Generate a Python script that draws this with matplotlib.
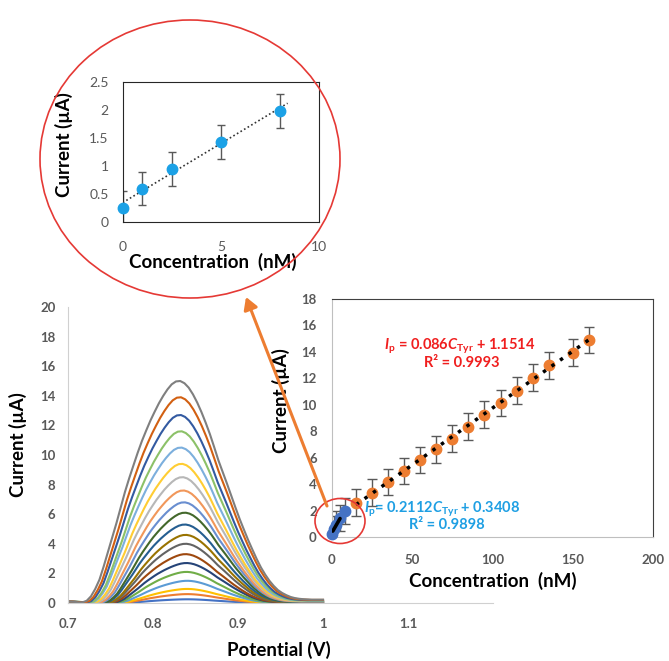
import numpy as np
import matplotlib
matplotlib.use("Agg")
import matplotlib.pyplot as plt
from matplotlib.patches import Ellipse, FancyArrowPatch

plt.rcParams['font.family'] = ['Lato', 'DejaVu Sans']
plt.rcParams['mathtext.fontset'] = 'custom'
plt.rcParams['mathtext.rm'] = 'Lato'
plt.rcParams['mathtext.it'] = 'Lato:italic'
plt.rcParams['mathtext.bf'] = 'Lato:bold'
plt.rcParams['mathtext.bfit'] = 'Lato:italic:bold'

# ---------------- data ----------------
# normalised DPV profile
template_potential = [0.700, 0.705, 0.710, 0.715, 0.720, 0.725, 0.730, 0.735, 0.740, 0.745,
                      0.750, 0.755, 0.760, 0.765, 0.770, 0.775, 0.780, 0.785, 0.790, 0.795,
                      0.800, 0.805, 0.810, 0.815, 0.820, 0.825, 0.830, 0.835, 0.840, 0.845,
                      0.850, 0.855, 0.860, 0.865, 0.870, 0.875, 0.880, 0.885, 0.890, 0.895,
                      0.900, 0.905, 0.910, 0.915, 0.920, 0.925, 0.930, 0.935, 0.940, 0.945,
                      0.950, 0.955, 0.960, 0.965, 0.970, 0.975, 0.980, 0.985, 0.990, 0.995, 1.000]
template_shape = [0.008, 0.007, 0.005, 0.003, 0.003, 0.010, 0.030, 0.063, 0.105, 0.165,
                  0.230, 0.295, 0.360, 0.430, 0.500, 0.562, 0.620, 0.677, 0.730, 0.777,
                  0.822, 0.862, 0.900, 0.933, 0.962, 0.985, 0.998, 1.000, 0.990, 0.970,
                  0.940, 0.903, 0.860, 0.812, 0.760, 0.702, 0.642, 0.590, 0.538, 0.484,
                  0.430, 0.378, 0.330, 0.283, 0.240, 0.198, 0.160, 0.128, 0.100, 0.077,
                  0.058, 0.045, 0.035, 0.027, 0.022, 0.019, 0.017, 0.016, 0.015, 0.015, 0.015]
template_peak = 0.833

peak_heights = [0.25, 0.6, 0.95, 1.5, 2.1, 2.7, 3.3, 4.0, 4.6, 5.3,
                6.1, 6.8, 7.6, 8.5, 9.4, 10.5, 11.6, 12.7, 13.9, 15.0]
peak_potentials = [0.840, 0.840, 0.840, 0.840, 0.839, 0.839, 0.838, 0.838, 0.838, 0.837,
                   0.837, 0.836, 0.835, 0.834, 0.833, 0.832, 0.832, 0.831, 0.831, 0.830]
peak_widths = [0.70, 0.72, 0.73, 0.75, 0.76, 0.78, 0.79, 0.81, 0.82, 0.84,
               0.85, 0.87, 0.88, 0.90, 0.91, 0.93, 0.94, 0.96, 0.98, 1.00]
curve_colors = ['#4472C4', '#ED7D31', '#FFC000', '#5B9BD5', '#70AD47', '#264478', '#9E480E',
                '#636363', '#997300', '#255E91', '#43682B', '#698ED0', '#F1975A', '#B7B7B7',
                '#FFCD33', '#7CAFDD', '#8CC168', '#335AA1', '#D26012', '#7F7F7F']

conc_high = [15, 25, 35, 45, 55, 65, 75, 85, 95, 105, 115, 125, 135, 150, 160]
cur_high = [2.60, 3.35, 4.16, 4.99, 5.83, 6.63, 7.44, 8.35, 9.25, 10.14, 11.07, 12.05, 12.98, 13.94, 14.90]
err_high = [1.0, 1.0, 1.0, 1.0, 1.0, 1.0, 1.0, 1.0, 1.0, 1.0, 1.0, 1.0, 1.0, 1.0, 1.0]

conc_low = [0, 1, 2.5, 5, 8]
cur_low = [0.24, 0.59, 0.94, 1.42, 1.98]
err_low_main = [1.0, 1.0, 1.0, 1.0, 1.0]
err_low_inset = [0.3, 0.3, 0.3, 0.3, 0.3]

fit_high = (0.086, 1.1514)
fit_low = (0.2112, 0.3408)
fit_high_range = [15, 162]
fit_low_range_main = [0.5, 5]
fit_low_range_inset = [0, 8.4]

# ---------------- figure ----------------
W, H = 669, 661
fig = plt.figure(figsize=(W / 100, H / 100), dpi=100)
fig.patch.set_facecolor('white')

TICK = '#595959'

# ---- left: voltammograms ----
ax1 = fig.add_axes([68 / W, 1 - 603 / H, 425 / W, 296 / H])
tp = np.array(template_potential)
ts = np.array(template_shape)
for h, pk, w, c in zip(peak_heights, peak_potentials, peak_widths, curve_colors):
    xs = pk + (tp - template_peak) * w
    keep = xs <= 1.0
    xs = np.concatenate([[0.70], xs[keep], [1.00]])
    ys = np.concatenate([[ts[0]], ts[keep], [ts[keep][-1]]]) * h
    ax1.plot(xs, ys, color=c, lw=1.5)
ax1.set_xlim(0.7, 1.2)
ax1.set_ylim(0, 20)
ax1.set_xticks([0.7, 0.8, 0.9, 1.0, 1.1])
ax1.set_xticklabels(['0.7', '0.8', '0.9', '1', '1.1'])
ax1.set_yticks(range(0, 21, 2))
for s in ['top', 'right']:
    ax1.spines[s].set_visible(False)
for s in ['left', 'bottom']:
    ax1.spines[s].set_color('#D0D0D0')
ax1.tick_params(length=0, labelsize=9.5, labelcolor=TICK)
ax1.tick_params(axis='x', pad=11)
ax1.tick_params(axis='y', pad=9)
for t in ax1.get_xticklabels() + ax1.get_yticklabels():
    t.set_fontweight('bold')
ax1.set_xlabel('Potential (V)', fontsize=13.5, fontweight='bold')
ax1.set_ylabel('Current (µA)', fontsize=13.5, fontweight='bold')
ax1.xaxis.set_label_coords((279 - 68) / 425, (603 - 641) / 296)
ax1.yaxis.set_label_coords((27 - 68) / 425, (603 - 445) / 296)

# ---- right: calibration plot ----
ax2 = fig.add_axes([332 / W, 1 - 537 / H, 321 / W, 238 / H])
ax2.set_facecolor('white')
ax2.errorbar(conc_high, cur_high, yerr=err_high, fmt='none', ecolor='#595959',
             elinewidth=1, capsize=3.5, capthick=1, zorder=2)
ax2.errorbar(conc_low, cur_low, yerr=err_low_main, fmt='none', ecolor='#595959',
             elinewidth=1, capsize=3.5, capthick=1, zorder=2)
ax2.plot(conc_high, cur_high, 'o', color='#ED7D31', ms=7.5, zorder=3, clip_on=False)
ax2.plot(conc_low, cur_low, 'o', color='#4472C4', ms=7.5, zorder=3, clip_on=False)
xh = np.array(fit_high_range)
ax2.plot(xh, fit_high[0] * xh + fit_high[1], color='black', lw=2.5,
         linestyle=(0, (1, 2)), zorder=4)
xl = np.array(fit_low_range_main)
ax2.plot(xl, fit_low[0] * xl + fit_low[1], color='black', lw=2.6, zorder=4,
         solid_capstyle='round')
ax2.set_xlim(0, 200)
ax2.set_ylim(0, 18)
ax2.set_xticks(range(0, 201, 50))
ax2.set_yticks(range(0, 19, 2))
for s in ['left', 'bottom']:
    ax2.spines[s].set_color('#BFBFBF')
for s in ['top', 'right']:
    ax2.spines[s].set_color('#404040')
ax2.tick_params(length=0, labelsize=9.5, labelcolor=TICK)
ax2.tick_params(axis='x', pad=12)
ax2.tick_params(axis='y', pad=11)
for t in ax2.get_xticklabels() + ax2.get_yticklabels():
    t.set_fontweight('bold')
ax2.set_xlabel('Concentration  (nM)', fontsize=13.5, fontweight='bold')
ax2.set_ylabel('Current (µA)', fontsize=13.5, fontweight='bold')
ax2.xaxis.set_label_coords(0.5, (537 - 572) / 238)
ax2.yaxis.set_label_coords((290 - 332) / 321, (537 - 401) / 238)

red = '#F01E1E'
blue = '#1E9FE3'
ax2.text(0.399, 0.80, r'$\mathbfit{I}_{\mathbf{p}}$ = 0.086$\mathbfit{C}_{\mathbf{Tyr}}$ + 1.1514',
         transform=ax2.transAxes, ha='center', va='center', color=red,
         fontsize=10.5, fontweight='bold')
ax2.text(0.405, 0.73, 'R² = 0.9993', transform=ax2.transAxes, ha='center', va='center',
         color=red, fontsize=10.5, fontweight='bold')
ax2.text(0.343, 0.118, r'$\mathbfit{I}_{\mathbf{p}}$= 0.2112$\mathbfit{C}_{\mathbf{Tyr}}$ + 0.3408',
         transform=ax2.transAxes, ha='center', va='center', color=blue,
         fontsize=10.5, fontweight='bold')
ax2.text(0.358, 0.05, 'R² = 0.9898', transform=ax2.transAxes, ha='center', va='center',
         color=blue, fontsize=10.5, fontweight='bold')

# ---- inset: low concentration range ----
ax3 = fig.add_axes([122.7 / W, 1 - 221.7 / H, 196.3 / W, 140 / H])
ax3.errorbar(conc_low, cur_low, yerr=err_low_inset, fmt='none', ecolor='#595959',
             elinewidth=1, capsize=3, capthick=1, zorder=2)
xi = np.array(fit_low_range_inset)
ax3.plot(xi, fit_low[0] * xi + fit_low[1], color='#333333', lw=1.2,
         linestyle=(0, (1, 1.5)), zorder=3)
ax3.plot(conc_low, cur_low, 'o', color='#1BA1E6', ms=7.5, zorder=4, clip_on=False)
ax3.set_xlim(0, 10)
ax3.set_ylim(0, 2.5)
ax3.set_xticks([0, 5, 10])
ax3.set_yticks([0, 0.5, 1, 1.5, 2, 2.5])
ax3.set_yticklabels(['0', '0.5', '1', '1.5', '2', '2.5'])
for s in ax3.spines.values():
    s.set_color('#262626')
ax3.tick_params(length=0, labelsize=10, labelcolor=TICK)
ax3.tick_params(axis='x', pad=14)
ax3.tick_params(axis='y', pad=10)
ax3.set_xlabel('Concentration  (nM)', fontsize=13.5, fontweight='bold')
ax3.set_ylabel('Current (µA)', fontsize=13.5, fontweight='bold')
ax3.xaxis.set_label_coords((212.5 - 122.7) / 196.3, (221.7 - 253) / 140)
ax3.yaxis.set_label_coords((72.7 - 122.7) / 196.3, (221.7 - 144.5) / 140)

# ---- annotations ----
fig.patches.append(Ellipse((190 / W, 1 - 159 / H), 300 / W, 278 / H,
                           transform=fig.transFigure, fill=False,
                           edgecolor='#E53935', lw=1.2, zorder=5))
fig.patches.append(Ellipse((340 / W, 1 - 521 / H), 50 / W, 45 / H,
                           transform=fig.transFigure, fill=False,
                           edgecolor='#E53935', lw=1.2, zorder=5))
fig.patches.append(FancyArrowPatch((327 / W, 1 - 506 / H), (246 / W, 1 - 297 / H),
                                   transform=fig.transFigure,
                                   arrowstyle='-|>,head_length=0.6,head_width=0.35',
                                   mutation_scale=12, color='#ED7D31', lw=2.2,
                                   shrinkA=0, shrinkB=0, zorder=6))

fig.savefig('out.png', dpi=100)
